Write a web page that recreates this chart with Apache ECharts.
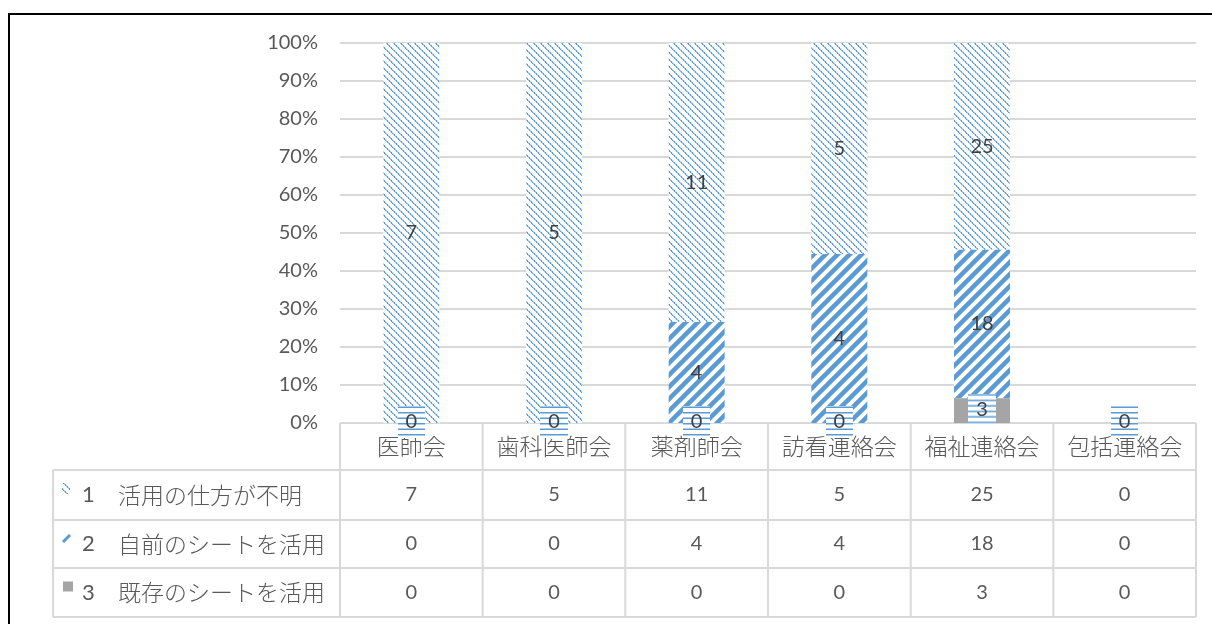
<!DOCTYPE html>
<html>
<head>
<meta charset="utf-8">
<script src="https://cdn.jsdelivr.net/npm/echarts@6/dist/echarts.min.js"></script>
<style>
  html, body { margin: 0; padding: 0; background: #fff; }
  #chart { width: 1212px; height: 624px; }
</style>
</head>
<body>
<div id="chart"></div>
<script>
// Groups and answer counts
const categories = ['医師会', '歯科医師会', '薬剤師会', '訪看連絡会', '福祉連絡会', '包括連絡会'];
const rowNumbers = ['1', '2', '3'];
const rowNames = ['活用の仕方が不明', '自前のシートを活用', '既存のシートを活用'];
const unclear = [7, 5, 11, 5, 25, 0];
const ownSheet = [0, 0, 4, 4, 18, 0];
const existingSheet = [0, 0, 0, 0, 3, 0];

const rows = [unclear, ownSheet, existingSheet];
const BLUE = '#5B9BD5';
const GRAY = '#A5A5A5';
const TEXT = '#595959';
const LINE = '#D9D9D9';
const NUM_FONT = 'Lato, "Noto Sans CJK JP", sans-serif';
const JP_FONT = '"Noto Sans CJK JP", Lato, sans-serif';

function makeTile(w, h, draw) {
  const c = document.createElement('canvas');
  c.width = w; c.height = h;
  const g = c.getContext('2d');
  draw(g, w, h);
  return c;
}

// fine dotted back-diagonal hatch
const fineHatch = makeTile(7, 7, (g, w, h) => {
  g.fillStyle = '#fff';
  g.fillRect(0, 0, w, h);
  for (let i = 0; i < w; i++) {
    g.fillStyle = i % 2 ? 'rgba(91,155,213,0.6)' : 'rgba(91,155,213,1)';
    g.fillRect(i, i, 1, 1);
    g.fillStyle = i % 2 ? 'rgba(91,155,213,1)' : 'rgba(91,155,213,0.5)';
    g.fillRect((i + 1) % w, i, 1, 1);
  }
});

// wide forward-diagonal hatch
const wideHatch = makeTile(12, 12, (g, w, h) => {
  g.fillStyle = '#fff';
  g.fillRect(0, 0, w, h);
  g.strokeStyle = BLUE;
  g.lineWidth = 4.5;
  for (const o of [-w, 0, w]) {
    g.beginPath();
    g.moveTo(o - 2, h + 2);
    g.lineTo(o + w + 2, -2);
    g.stroke();
  }
});

// horizontal-stripe label box
const stripeBox = makeTile(28, 32, (g, w, h) => {
  g.fillStyle = '#fff';
  g.fillRect(0, 0, w, h);
  g.fillStyle = BLUE;
  for (let y = 0.5; y < h; y += 5.5) g.fillRect(0, y, w, 1.5);
});

const totals = categories.map((c, i) => unclear[i] + ownSheet[i] + existingSheet[i]);
const pct = arr => arr.map((v, i) => totals[i] ? v / totals[i] * 100 : 0);

const labelBase = {
  show: true,
  position: 'inside',
  color: '#404040',
  fontFamily: NUM_FONT,
  fontSize: 20
};

const chart = echarts.init(document.getElementById('chart'), null, { renderer: 'canvas' });

chart.setOption({
  animation: false,
  backgroundColor: '#fff',
  grid: { left: 340, right: 16, top: 43, bottom: 201, containLabel: false },
  xAxis: {
    type: 'category',
    data: categories,
    axisLine: { show: false },
    axisTick: { show: false },
    axisLabel: { show: false }
  },
  yAxis: {
    type: 'value',
    min: 0,
    max: 100,
    interval: 10,
    axisLine: { show: false },
    axisTick: { show: false },
    axisLabel: {
      formatter: '{value}%',
      color: TEXT,
      fontFamily: NUM_FONT,
      fontSize: 20,
      margin: 22
    },
    splitLine: { lineStyle: { color: LINE, width: 2 } }
  },
  series: [
    {
      name: rowNames[2],
      type: 'bar',
      stack: 'all',
      barWidth: 56,
      z: 3,
      data: pct(existingSheet),
      itemStyle: { color: GRAY },
      label: Object.assign({}, labelBase, {
        formatter: p => String(existingSheet[p.dataIndex]),
        backgroundColor: { image: stripeBox },
        padding: [8, 8],
        lineHeight: 16,
        offset: [0, -1]
      })
    },
    {
      name: rowNames[1],
      type: 'bar',
      stack: 'all',
      barWidth: 56,
      data: pct(ownSheet),
      itemStyle: { color: { image: wideHatch, repeat: 'repeat' } },
      label: Object.assign({}, labelBase, {
        formatter: p => String(ownSheet[p.dataIndex])
      })
    },
    {
      name: rowNames[0],
      type: 'bar',
      stack: 'all',
      barWidth: 56,
      data: pct(unclear),
      itemStyle: { color: { image: fineHatch, repeat: 'repeat' } },
      label: Object.assign({}, labelBase, {
        formatter: p => String(unclear[p.dataIndex])
      })
    }
  ]
});

// Data table under the plot, laid out on the category axis
const centers = categories.map((c, i) => chart.convertToPixel({ xAxisIndex: 0 }, i));
const band = centers[1] - centers[0];
const left = centers[0] - band / 2;
const right = centers[centers.length - 1] + band / 2;
const tableTop = chart.convertToPixel({ yAxisIndex: 0 }, 0);
const rowH = 49;
const headerBottom = tableTop + 47;
const rowLines = [headerBottom, headerBottom + rowH + 1, headerBottom + 2 * rowH, headerBottom + 3 * rowH];
const tableLeft = 53;
const tableBottom = rowLines[3];

function txt(x, y, text, font, align) {
  return {
    type: 'text', x: x, y: y, silent: true,
    style: {
      text: text, font: font, fill: TEXT,
      align: align || 'center', verticalAlign: 'middle',
      textAlign: align || 'center', textVerticalAlign: 'middle'
    }
  };
}
function ln(x1, y1, x2, y2) {
  return { type: 'line', silent: true, shape: { x1, y1, x2, y2 }, style: { stroke: LINE, lineWidth: 2 } };
}

const els = [];
els.push(ln(left, tableTop, right, tableTop));
rowLines.forEach(y => els.push(ln(tableLeft, y, right, y)));
els.push(ln(tableLeft, headerBottom, tableLeft, tableBottom));
for (let i = 0; i <= categories.length; i++) {
  const x = left + i * band;
  els.push(ln(x, tableTop, x, tableBottom));
}
categories.forEach((c, i) => els.push(txt(centers[i], (tableTop + headerBottom) / 2, c, '300 23px ' + JP_FONT)));

rows.forEach((arr, r) => {
  const yc = (rowLines[r] + rowLines[r + 1]) / 2;
  if (r === 2) {
    els.push({ type: 'rect', silent: true, shape: { x: 63, y: yc - 11, width: 10, height: 10 }, style: { fill: GRAY } });
  } else if (r === 1) {
    els.push({ type: 'line', silent: true, shape: { x1: 63, y1: yc - 2, x2: 70, y2: yc - 9 }, style: { stroke: BLUE, lineWidth: 3 } });
  } else {
    els.push({ type: 'rect', silent: true, shape: { x: 62, y: yc - 12, width: 8, height: 11 }, style: { fill: { image: fineHatch, repeat: 'repeat' } } });
  }
  els.push(txt(82, yc, rowNumbers[r], '22px ' + NUM_FONT, 'left'));
  els.push(txt(118, yc, rowNames[r], '300 23px ' + JP_FONT, 'left'));
  arr.forEach((v, i) => els.push(txt(centers[i], yc, String(v), '20px ' + NUM_FONT)));
});

// outer frame
els.push({ type: 'rect', silent: true, shape: { x: 9, y: 14, width: 1240, height: 700 }, style: { fill: 'transparent', stroke: '#000', lineWidth: 2 } });

chart.setOption({ graphic: { elements: els } });
</script>
</body>
</html>
